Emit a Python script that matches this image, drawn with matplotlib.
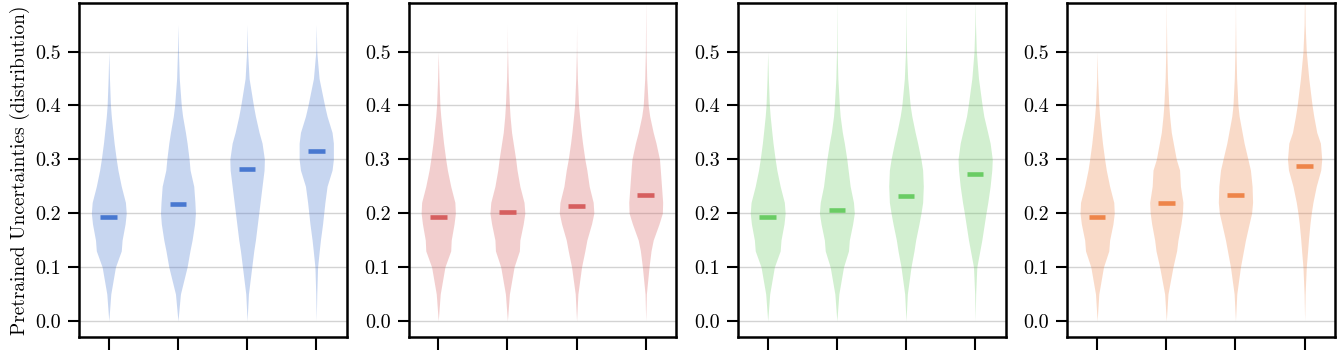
import numpy as np
import matplotlib
matplotlib.use("Agg")
import matplotlib.pyplot as plt

plt.rcParams['font.family'] = ['cmr10', 'DejaVu Serif']
plt.rcParams['mathtext.fontset'] = 'cm'
plt.rcParams['axes.formatter.use_mathtext'] = True

levels = [0.0, 0.05, 0.1, 0.13, 0.15, 0.18, 0.2, 0.22, 0.25, 0.28,
          0.3, 0.33, 0.35, 0.38, 0.4, 0.45, 0.5, 0.55, 0.6]

# relative widths (widest violin ~ 104) for each panel, one row per violin
widths_blue = [
    [0, 12, 40, 75, 80, 98, 105, 100, 75, 55, 45, 32, 25, 15, 10, 4, 0, 0, 0],
    [0, 15, 55, 72, 85, 100, 105, 102, 95, 73, 67, 55, 45, 28, 20, 8, 3, 0, 0],
    [0, 8, 28, 40, 50, 62, 70, 78, 90, 102, 104, 90, 72, 50, 38, 12, 3, 0, 0],
    [0, 3, 8, 18, 25, 38, 45, 52, 65, 95, 103, 103, 95, 65, 50, 17, 3, 0, 0],
]
widths_red = [
    [0, 12, 40, 75, 78, 95, 103, 100, 75, 55, 45, 32, 25, 15, 10, 4, 0, 0, 0],
    [0, 12, 40, 72, 75, 95, 105, 100, 75, 58, 50, 35, 25, 16, 12, 5, 1, 0, 0],
    [0, 8, 30, 50, 62, 90, 104, 100, 76, 62, 50, 36, 28, 18, 12, 5, 1, 0, 0],
    [0, 4, 20, 32, 45, 80, 100, 102, 95, 88, 83, 62, 45, 24, 15, 6, 2, 1, 0],
]
widths_green = [
    [0, 12, 40, 75, 80, 98, 105, 100, 75, 55, 45, 32, 25, 15, 10, 4, 0, 0, 0],
    [0, 12, 40, 70, 75, 95, 105, 100, 80, 68, 60, 45, 33, 20, 15, 6, 2, 1, 0],
    [0, 8, 30, 48, 58, 78, 90, 100, 104, 100, 90, 70, 55, 35, 25, 10, 3, 1, 0],
    [0, 3, 10, 28, 40, 55, 65, 76, 90, 100, 103, 90, 75, 52, 42, 20, 7, 2, 0],
]
widths_orange = [
    [0, 10, 38, 70, 75, 95, 103, 100, 75, 55, 45, 32, 25, 15, 10, 3, 0, 0, 0],
    [0, 10, 40, 62, 70, 88, 97, 100, 85, 80, 60, 42, 30, 20, 15, 7, 3, 1, 0],
    [0, 8, 30, 48, 60, 82, 97, 103, 100, 90, 75, 52, 40, 22, 15, 7, 3, 1, 0],
    [0, 3, 10, 18, 23, 32, 40, 50, 70, 97, 103, 95, 73, 55, 45, 25, 10, 3, 1],
]

medians_blue = [0.193, 0.2177, 0.282, 0.316]
medians_red = [0.193, 0.2016, 0.214, 0.234]
medians_green = [0.193, 0.205, 0.2325, 0.2727]
medians_orange = [0.193, 0.219, 0.233, 0.2876]

panels = [
    (widths_blue, medians_blue, '#4878d0'),
    (widths_red, medians_red, '#d65f5f'),
    (widths_green, medians_green, '#6acc64'),
    (widths_orange, medians_orange, '#ee854a'),
]

fig, axes = plt.subplots(1, 4, figsize=(13.4, 3.5), dpi=100)
fig.subplots_adjust(left=0.059, right=0.9963, top=0.991, bottom=0.037, wspace=0.231)

lv = np.array(levels)
for ax, (widths, medians, color) in zip(axes, panels):
    for i, (w, m) in enumerate(zip(widths, medians)):
        half = np.array(w) / 104 * 0.25
        ax.fill_betweenx(lv, i - half, i + half, color=color, alpha=0.3, lw=0, zorder=2)
        ax.hlines(m, i - 0.12, i + 0.12, color=color, lw=3.3, zorder=3)
    ax.set_xlim(-0.43, 3.44)
    ax.set_ylim(-0.03, 0.59)
    ax.set_yticks([0.0, 0.1, 0.2, 0.3, 0.4, 0.5])
    ax.set_yticklabels(['0.0', '0.1', '0.2', '0.3', '0.4', '0.5'])
    ax.set_xticks(range(4))
    ax.set_xticklabels([])
    ax.grid(axis='y', color='#d3d3d3', lw=1.0, zorder=0)
    ax.set_axisbelow(True)
    for s in ax.spines.values():
        s.set_linewidth(1.8)
    ax.tick_params(axis='y', length=8, width=1.5, labelsize=14.5, pad=5)
    ax.tick_params(axis='x', length=10, width=1.5)

axes[0].set_ylabel('Pretrained Uncertainties (distribution)', fontsize=14, labelpad=4)

fig.savefig('out.png', dpi=100)
